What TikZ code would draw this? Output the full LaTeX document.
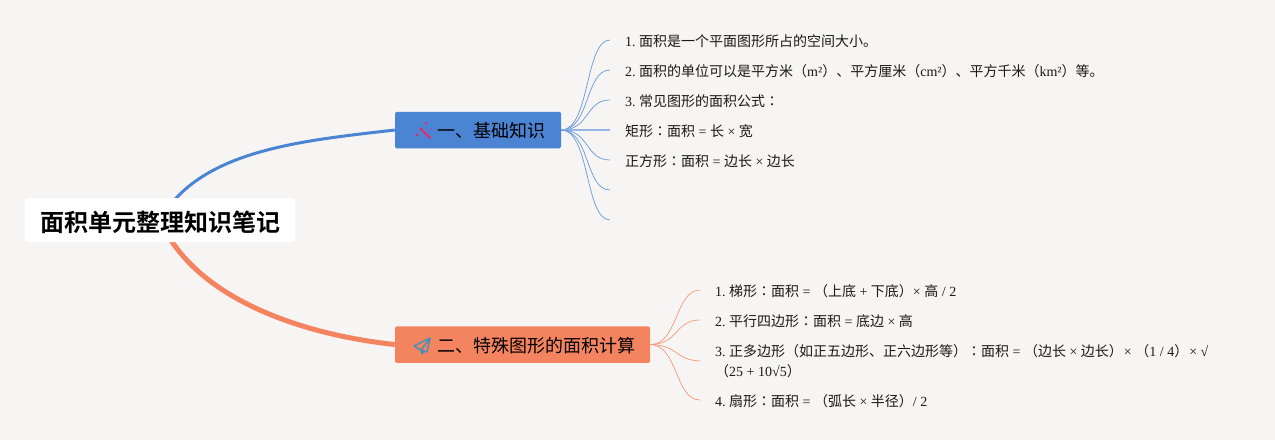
\documentclass[tikz,border=0pt]{standalone}
\usepackage{fontspec}
\usepackage{xcolor}
\usetikzlibrary{backgrounds}
\setmainfont{Liberation Serif}
\newfontfamily\cjk{Noto Sans CJK SC}
\newfontfamily\cjktc{Noto Sans CJK TC}
\newfontfamily\cjkbold{Noto Sans CJK SC Bold}
\newcommand{\zh}[1]{{\cjk #1}}
\newcommand{\zhc}{{\cjktc ：}}
\frenchspacing
\definecolor{paper}{HTML}{F6F5F4}
\definecolor{bluebr}{HTML}{4C84D4}
\definecolor{orangebr}{HTML}{F4845F}
\definecolor{wandpink}{HTML}{D8316E}
\definecolor{planeblue}{HTML}{4A8DB8}
\tikzset{
  rootbox/.style={fill=white,rounded corners=3pt,minimum width=270pt,minimum height=44pt,inner sep=0pt,text height=25pt,text depth=3pt,font=\fontsize{24}{28}\selectfont},
  branchbox/.style={rounded corners=1.5pt,minimum height=36.5pt,inner sep=0pt,text=black,text height=17.2pt,text depth=2.2pt,font=\fontsize{18}{22}\selectfont},
  leaftext/.style={anchor=west,inner xsep=15pt,inner ysep=0pt,align=left,text=black!90,font=\fontsize{14}{20}\selectfont},
  leafline/.style={leaftext,text height=14.6pt,text depth=2pt},
  bluethin/.style={draw=bluebr!85,line width=0.7pt},
  orangethin/.style={draw=orangebr!85,line width=0.7pt}
}

\begin{document}
\begin{tikzpicture}[x=1pt,y=-1pt]
    \useasboundingbox (0,0) rectangle (1275,440);
    \node[rootbox] (root) at (160,220) {\hspace{1pt}{\cjkbold 面积单元整理知识笔记}};
    \node[branchbox,fill=bluebr,minimum width=166pt] (basics) at (478,130) {\hspace{26pt}\zh{一、基础知识}};
    \node[branchbox,fill=orangebr,minimum width=255pt] (special) at (522.5,344.5) {\hspace{27pt}\zh{二、特殊图形的面积计算}};

    % Leaves of the first branch
    \node[leafline] (basicsa) at (610,40) {1. \zh{面积是一个平面图形所占的空间大小。}};
    \node[leafline] (basicsb) at (610,70) {2. \zh{面积的单位可以是平方米（}m²\zh{）、平方厘米（}cm²\zh{）、平方千米（}km²\zh{）等。}};
    \node[leafline] (basicsc) at (610,100) {3. \zh{常见图形的面积公式}\zhc};
    \node[leafline] (basicsd) at (610,130) {\zh{矩形}\zhc\zh{面积} = \zh{长} × \zh{宽}};
    \node[leafline] (basicse) at (610,160) {\zh{正方形}\zhc\zh{面积} = \zh{边长} × \zh{边长}};
    \coordinate (basicsf) at (610,190);
    \coordinate (basicsg) at (610,220);

    % Leaves of the second branch
    \node[leafline] (speciala) at (700,290) {1. \zh{梯形}\zhc\zh{面积} = \zh{（上底} + \zh{下底）}× \zh{高} / 2};
    \node[leafline] (specialb) at (700,320) {2. \zh{平行四边形}\zhc\zh{面积} = \zh{底边} × \zh{高}};
    \node[leaftext] (specialc) at (700,361) {3. \zh{正多边形（如正五边形、正六边形等）}\zhc\zh{面积} = \zh{（边长} × \zh{边长）}\hspace{1pt}× \zh{（}1 / 4\zh{）}\hspace{1pt}× √\\\zh{（}25 + 10√5\zh{）}};
    \node[leafline] (speciald) at (700,400) {4. \zh{扇形}\zhc\zh{面积} = \zh{（弧长} × \zh{半径）}/ 2};

    % Main curves go under the boxes
    \begin{scope}[on background layer]
        \fill[paper] (0,0) rectangle (1275,440);
        \draw[bluebr,line width=3pt] (root.center) .. controls (200,150) and (300,141) .. (basics.west);
        \draw[orangebr,line width=5pt] (root.center) .. controls (195,300) and (305,335) .. (special.west);
    \end{scope}

    % Thin curves
    \draw[bluethin] (basics.east) .. controls (590,130) and (585,40) .. (basicsa.west);
    \draw[bluethin] (basics.east) .. controls (590,130) and (585,70) .. (basicsb.west);
    \draw[bluethin] (basics.east) .. controls (590,130) and (585,100) .. (basicsc.west);
    \draw[bluethin,draw=bluebr!60,line width=1.3pt] (basics.east) -- (basicsd.west);
    \draw[bluethin] (basics.east) .. controls (590,130) and (585,160) .. (basicse.west);
    \draw[bluethin] (basics.east) .. controls (590,130) and (585,190) .. (basicsf);
    \draw[bluethin] (basics.east) .. controls (590,130) and (585,220) .. (basicsg);
    \draw[orangethin] (special.east) .. controls (678,345) and (675,290) .. (speciala.west);
    \draw[orangethin] (special.east) .. controls (678,345) and (675,320) .. (specialb.west);
    \draw[orangethin] (special.east) .. controls (678,345) and (675,360) .. (specialc.west);
    \draw[orangethin] (special.east) .. controls (678,345) and (675,400) .. (speciald.west);

    % Icons
    \draw[wandpink,line width=2.2pt] (420,128) -- (430,138);
    \fill[wandpink] (426,123) circle (1.5pt) (431,129) circle (0.8pt) (417,135) circle (1.6pt);
    \draw[planeblue,line width=1.5pt,line join=round] (430,338) -- (414,346) -- (421,350) -- (430,338) -- (427,352) -- (421,350) -- (422,354) -- (424,351);
\end{tikzpicture}
\end{document}
